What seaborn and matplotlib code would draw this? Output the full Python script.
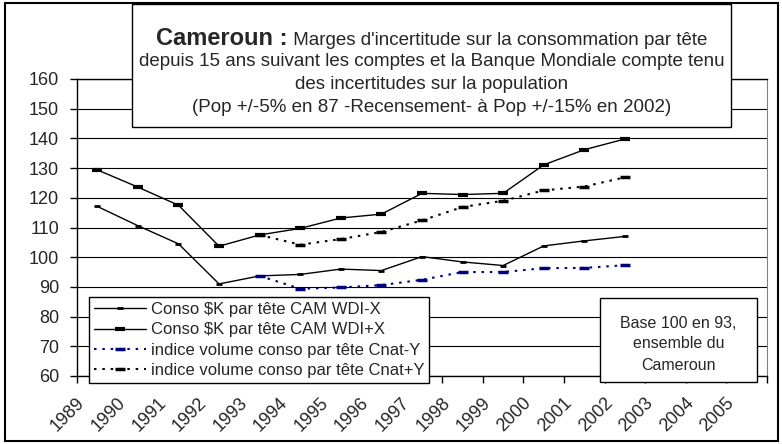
import matplotlib
matplotlib.use("Agg")
import matplotlib.pyplot as plt
import matplotlib.patches as mpatches
import matplotlib.transforms as mtransforms
import seaborn as sns

# Données (base 100 en 93)
years = list(range(1989, 2003))
wdi_minus = [117.1, 110.6, 104.5, 91.0, 93.7, 94.2, 96.0, 95.5, 100.2, 98.4, 97.2, 103.8, 105.5, 107.0]
wdi_plus = [129.4, 123.6, 117.5, 103.7, 107.5, 109.7, 113.2, 114.5, 121.5, 121.1, 121.5, 131.1, 136.2, 139.8]
cnat_years = list(range(1993, 2003))
cnat_minus = [93.7, 89.4, 89.8, 90.6, 92.4, 95.0, 95.0, 96.3, 96.4, 97.3]
cnat_plus = [107.5, 104.2, 106.1, 108.5, 112.4, 116.9, 119.0, 122.5, 123.8, 126.9]
year_labels = [str(y) for y in range(1989, 2006)]
y_ticks = list(range(60, 170, 10))
labels = ["Conso \\$K par tête CAM WDI-X",
          "Conso \\$K par tête CAM WDI+X",
          "indice volume conso par tête Cnat-Y",
          "indice volume conso par tête Cnat+Y"]
title_bold = "Cameroun :"
title_rest = [" Marges d'incertitude sur la consommation par tête",
              "depuis 15 ans suivant les comptes et la Banque Mondiale compte tenu",
              "des incertitudes sur la population",
              "(Pop +/-5% en 87 -Recensement- à Pop +/-15% en 2002)"]
note_lines = ["Base 100 en 93,", "ensemble du", "Cameroun"]

sns.set_style("white")
plt.rcParams['font.family'] = ['Liberation Sans', 'DejaVu Sans']

W, H = 782, 444
fig = plt.figure(figsize=(W / 100, H / 100), dpi=100)
ax = fig.add_axes([77 / W, 1 - 376 / H, 690 / W, 297 / H])

dots = (0, (1.2, 2.8))
sns.lineplot(x=years, y=wdi_minus, ax=ax, color='black', lw=1, marker='_',
             markersize=5, mew=2, markeredgecolor='black', label=labels[0])
sns.lineplot(x=years, y=wdi_plus, ax=ax, color='black', lw=1, marker='_',
             markersize=7, mew=3, markeredgecolor='black', label=labels[1])
sns.lineplot(x=cnat_years, y=cnat_minus, ax=ax, color='#000080', lw=1.5, linestyle=dots,
             marker='_', markersize=7, mew=2.5, markeredgecolor='#000080', label=labels[2])
sns.lineplot(x=cnat_years, y=cnat_plus, ax=ax, color='black', lw=1.5, linestyle=dots,
             marker='_', markersize=7, mew=2.5, markeredgecolor='black', label=labels[3])

# axe y
ax.set_ylim(60, 160)
ax.set_yticks(y_ticks)
ax.set_ylabel("")
ax.yaxis.grid(True, color='black', lw=0.8)
ax.set_axisbelow(True)
ax.tick_params(axis='y', length=5, width=1, direction='out', left=True,
               labelsize=13, pad=8, color='black')

# axe x : graduations entre catégories, libellés au centre
ax.set_xlim(1988.5, 2005.5)
ax.set_xticks([y - 0.5 for y in range(1989, 2007)])
ax.set_xticks(range(1989, 2006), minor=True)
ax.set_xticklabels(year_labels, minor=True, rotation=45, ha='right')
ax.tick_params(axis='x', which='major', length=5, width=1, direction='out',
               bottom=True, labelbottom=False, color='black')
ax.tick_params(axis='x', which='minor', length=0, pad=13, labelsize=13)
shift = mtransforms.ScaledTranslation(-9 / 100, 0, fig.dpi_scale_trans)
for lbl in ax.get_xticklabels(minor=True):
    lbl.set_transform(lbl.get_transform() + shift)
ax.set_xlabel("")

for side in ['left', 'bottom', 'top']:
    ax.spines[side].set_color('black')
    ax.spines[side].set_linewidth(1)
ax.spines['right'].set_color('#808080')

leg = ax.legend(loc='lower left', bbox_to_anchor=(89 / W, 61 / H),
                bbox_transform=fig.transFigure, borderaxespad=0, fontsize=12,
                handlelength=3.1, handletextpad=0.3, labelspacing=0.32,
                borderpad=0.3, fancybox=False, framealpha=1, edgecolor='black')
leg.get_frame().set_linewidth(1)

def px(x, y):
    return x / W, 1 - y / H

# cadre du titre
fig.add_artist(mpatches.Rectangle(px(132, 127), 599 / W, 123 / H, transform=fig.transFigure,
                                  facecolor='white', edgecolor='black', lw=1, zorder=5))
t1 = fig.text(*px(0, 45), title_bold, fontsize=17, weight='bold', ha='left', va='baseline', zorder=6)
t2 = fig.text(*px(0, 45), title_rest[0], fontsize=13.5, ha='left', va='baseline', zorder=6)
fig.canvas.draw()
r = fig.canvas.get_renderer()
w1 = t1.get_window_extent(r).width
w2 = t2.get_window_extent(r).width
x0 = 431.5 - (w1 + w2) / 2
t1.set_x(x0 / W)
t2.set_x((x0 + w1) / W)
for txt, yy in zip(title_rest[1:], [61, 84, 108]):
    fig.text(*px(431.5, yy), txt, fontsize=13.5, ha='center', va='center', zorder=6)

# encadré
fig.add_artist(mpatches.Rectangle(px(600, 382), 157 / W, 84 / H, transform=fig.transFigure,
                                  facecolor='white', edgecolor='black', lw=1, zorder=5))
for txt, yy in zip(note_lines, [323, 344, 365]):
    fig.text(*px(678.5, yy), txt, fontsize=11.5, ha='center', va='center', zorder=6)

# cadre extérieur
fig.add_artist(mpatches.Rectangle(px(5, 441), 773 / W, 438 / H, transform=fig.transFigure,
                                  facecolor='none', edgecolor='black', lw=1.5, zorder=7))

fig.savefig("out.png", dpi=100)
